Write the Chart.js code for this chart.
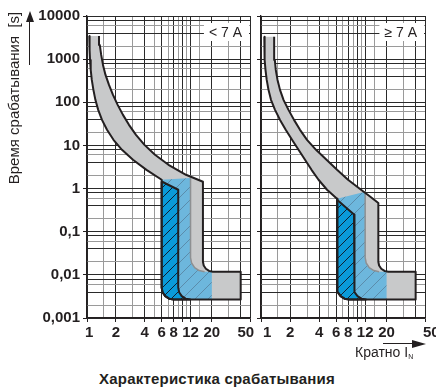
<!DOCTYPE html>
<html>
<head>
<meta charset="utf-8">
<script src="https://cdn.jsdelivr.net/npm/chart.js@4.4.0/dist/chart.umd.min.js"></script>
<style>
  html, body { margin: 0; padding: 0; background: #fff; }
  body { width: 436px; height: 387px; position: relative; overflow: hidden;
         font-family: "Liberation Sans", Arial, sans-serif; color: #231f20; }
  canvas { position: absolute; top: 0; }
  #left { left: 0; }
  #right { left: 256px; }
  .ytitle { position: absolute; width: 220px; height: 20px; line-height: 20px; left: -96px; top: 88px;
            text-align: center; font-size: 15px; white-space: pre; transform: rotate(-90deg); }
  .yline { position: absolute; left: 29px; top: 21px; width: 1.4px; height: 44px; background: #231f20; }
  .yhead { position: absolute; left: 26px; top: 11px; width: 0; height: 0;
           border-left: 4px solid transparent; border-right: 4px solid transparent; border-bottom: 11px solid #231f20; }
  .xline { position: absolute; left: 383px; top: 343px; width: 30px; height: 1.4px; background: #231f20; }
  .xhead { position: absolute; left: 412px; top: 339.5px; width: 0; height: 0;
           border-top: 4.5px solid transparent; border-bottom: 4.5px solid transparent; border-left: 14px solid #231f20; }
  .xtitle { position: absolute; left: 355px; top: 344px; font-size: 14px; line-height: 16px; white-space: nowrap; }
  .xtitle sub { font-size: 7px; vertical-align: -2px; }
  .caption { position: absolute; left: 0; width: 434px; top: 371px; text-align: center;
             font-size: 15px; letter-spacing: 0.2px; line-height: 16px; font-weight: bold; }
</style>
</head>
<body>
<canvas id="left" width="256" height="362"></canvas>
<canvas id="right" width="180" height="362"></canvas>
<div class="ytitle">Время срабатывания  [s]</div>
<div class="yline"></div><div class="yhead"></div>
<div class="xline"></div><div class="xhead"></div>
<div class="xtitle">Кратно I<sub>N</sub></div>
<div class="caption">Характеристика срабатывания</div>
<script>
// axes
const xTicks = [1, 2, 4, 6, 8, 12, 20, 50];
const xTickLabels = ['1', '2', '4', '6', '8', '12', '20', '50'];
const xGrid = [1, 1.5, 2, 3, 4, 5, 6, 7, 8, 9, 10, 11, 12, 15, 20, 30, 40, 50];
const xGridDark = [1, 2, 4, 6, 8, 10, 12, 20, 40, 50];
const yTicks = [0.001, 0.01, 0.1, 1, 10, 100, 1000, 10000];
const yTickLabels = ['0,001', '0,01', '0,1', '1', '10', '100', '1000', '10000'];
const yGrid = [0.001, 0.002, 0.004, 0.006, 0.008, 0.01, 0.02, 0.04, 0.06, 0.08,
  0.1, 0.2, 0.4, 0.6, 0.8, 1, 2, 4, 6, 8, 10, 20, 40, 60, 80,
  100, 200, 400, 600, 800, 1000, 2000, 4000, 6000, 8000, 10000];

// < 7 A : [multiple of In, seconds]
const leftMin = [[1.057, 3444], [1.064, 1633], [1.075, 958], [1.093, 562], [1.122, 330], [1.166, 194],
  [1.223, 114], [1.308, 66.7], [1.433, 39.1], [1.616, 23.0], [1.888, 13.5], [2.315, 7.91],
  [3.014, 4.64], [4.167, 2.72], [6, 1.6]];
const leftMagnetic = [[6, 0.00505], [6.13, 0.00396], [6.53, 0.00321], [7.17, 0.0028], [8.0, 0.00267],
  [40, 0.00267], [40, 0.01186], [20.5, 0.01186], [18.73, 0.01235], [17.34, 0.01387], [16.46, 0.01648],
  [16.16, 0.0202]];
const leftMax = [[16.16, 1.44], [10.75, 2.09], [7.063, 3.56], [5.109, 6.06], [3.972, 10.3], [3.239, 17.6],
  [2.738, 30.0], [2.371, 51.1], [2.088, 87.1], [1.866, 148], [1.695, 253], [1.559, 431],
  [1.468, 734], [1.406, 1251], [1.359, 2132], [1.334, 3444]];
const leftLight = [[6, 1.6], [12, 1.75], [12, 0.025], [12.31, 0.01879], [13.24, 0.01476], [14.76, 0.01256],
  [16.79, 0.01186], [20, 0.01186], [20, 0.00267], [8.0, 0.00267], [7.17, 0.0028], [6.53, 0.00321],
  [6.13, 0.00396], [6, 0.00505], [6, 1.6]];
const leftLightEdge = [[12, 1.75], [12, 0.025], [12.31, 0.01879], [13.24, 0.01476], [14.76, 0.01256],
  [16.79, 0.01186]];
const leftDark = [[6, 1.46], [8.93, 0.94], [8.93, 0.00505], [9.13, 0.00396], [9.72, 0.00321],
  [10.67, 0.0028], [11.9, 0.00267], [8.0, 0.00267], [7.17, 0.0028], [6.53, 0.00321], [6.13, 0.00396],
  [6, 0.00505], [6, 1.46]];

// >= 7 A
const rightMin = [[1.082, 3317], [1.085, 1633], [1.095, 958], [1.113, 562], [1.146, 330], [1.196, 194],
  [1.269, 114], [1.397, 66.7], [1.574, 39.1], [1.803, 23.0], [2.096, 13.5], [2.447, 7.91],
  [2.858, 4.64], [3.337, 2.72], [3.944, 1.60], [4.83, 0.938], [6.13, 0.581]];
const rightMagnetic = [[6.13, 0.00505], [6.27, 0.00396], [6.67, 0.00321], [7.32, 0.0028], [8.17, 0.00267],
  [40, 0.00267], [40, 0.01186], [20.86, 0.01186], [19.03, 0.01235], [17.62, 0.01387], [16.73, 0.01648],
  [16.43, 0.0202]];
const rightMax = [[16.43, 0.462], [13.16, 0.681], [10.87, 0.938], [7.97, 1.60], [6.132, 2.72],
  [4.773, 4.64], [3.715, 7.91], [2.997, 13.5], [2.536, 23.0], [2.198, 39.1], [1.928, 66.7],
  [1.711, 114], [1.574, 194], [1.483, 330], [1.423, 562], [1.39, 958], [1.374, 1633], [1.364, 3317]];
const rightLight = [[6.13, 0.581], [12, 0.84], [12, 0.025], [12.3, 0.01879], [13.22, 0.01476], [14.74, 0.01256],
  [16.74, 0.01186], [20, 0.01186], [20, 0.00267], [8.17, 0.00267], [7.32, 0.0028], [6.67, 0.00321],
  [6.27, 0.00396], [6.13, 0.00505], [6.13, 0.581]];
const rightLightEdge = [[12, 0.84], [12, 0.025], [12.3, 0.01879], [13.22, 0.01476], [14.74, 0.01256],
  [16.74, 0.01186]];
const rightDark = [[6.13, 0.55], [9.2, 0.25], [9.2, 0.00505], [9.4, 0.00396], [10.0, 0.00321],
  [10.97, 0.0028], [12.25, 0.00267], [8.17, 0.00267], [7.32, 0.0028], [6.67, 0.00321], [6.27, 0.00396],
  [6.13, 0.00505], [6.13, 0.55]];

const FONT = '"Liberation Sans", Arial, sans-serif';
const INK = '#231f20';

function hatch(bg, stroke, size, width) {
  const c = document.createElement('canvas');
  c.width = c.height = size;
  const g = c.getContext('2d');
  g.fillStyle = bg;
  g.fillRect(0, 0, size, size);
  g.strokeStyle = stroke;
  g.lineWidth = width;
  g.beginPath();
  for (const o of [-size, 0, size]) {
    g.moveTo(o - 1, size + 1);
    g.lineTo(o + size + 1, -1);
  }
  g.stroke();
  return g.createPattern(c, 'repeat');
}
const darkFill = hatch('#0a9ad9', '#102030', 10, 1);
const lightFill = hatch('#6db7dd', '#5b8cab', 13, 1);

const near = (a, b) => Math.abs(a - b) < b * 1e-6;
const has = (list, v) => list.some(t => near(v, t));
const mantissa = v => Math.round(v / Math.pow(10, Math.floor(Math.log10(v) + 1e-9)));
const pts = arr => arr.map(p => ({x: p[0], y: p[1]}));

function bands(o) {
  const outline = [...o.min, ...o.magnetic, ...o.max];
  const line = {type: 'scatter', showLine: true, pointRadius: 0, borderJoinStyle: 'round'};
  return [
    {...line, data: pts(outline), fill: 'shape', backgroundColor: '#c8c9ca', borderColor: 'rgba(0,0,0,0)', borderWidth: 0, order: 5},
    {...line, data: pts(o.light), fill: 'shape', backgroundColor: lightFill, borderColor: 'rgba(0,0,0,0)', borderWidth: 0, order: 4},
    {...line, data: pts(o.lightEdge), fill: false, borderColor: '#8e9092', borderWidth: 1.5, order: 3},
    {...line, data: pts(o.dark), fill: 'shape', backgroundColor: darkFill, borderColor: INK, borderWidth: 2, order: 2},
    {...line, data: pts(outline), fill: false, borderColor: INK, borderWidth: 2, order: 1}
  ];
}

const panelLabel = {
  id: 'panelLabel',
  afterDraw(chart, args, opts) {
    const {ctx, chartArea: a} = chart;
    ctx.save();
    ctx.font = '14px ' + FONT;
    const w = ctx.measureText(opts.text).width + 12;
    ctx.fillStyle = '#fff';
    ctx.fillRect(a.right - w - 1, a.top + 7, w, 18);
    ctx.fillStyle = INK;
    ctx.textAlign = 'right';
    ctx.textBaseline = 'middle';
    ctx.fillText(opts.text, a.right - 8, a.top + 17);
    ctx.restore();
  }
};

function makeChart(id, o) {
  return new Chart(document.getElementById(id), {
    type: 'scatter',
    data: {datasets: bands(o)},
    plugins: [panelLabel],
    options: {
      responsive: false,
      animation: false,
      events: [],
      layout: {padding: {left: 0, top: 16, right: o.padRight, bottom: 0}},
      plugins: {legend: {display: false}, tooltip: {enabled: false}, panelLabel: {text: o.label}},
      scales: {
        x: {
          type: 'logarithmic', min: 1, max: 50,
          afterBuildTicks: s => { s.ticks = xGrid.map(v => ({value: v})); },
          afterFit: s => { s.height = 44; s.paddingLeft = 0; s.paddingRight = 0; },
          border: {display: true, color: INK, width: 1.3},
          grid: {
            color: c => has(xGridDark, c.tick.value) ? '#2a2a2a' : '#9a9a9a',
            lineWidth: 1,
            tickLength: 4,
            tickColor: c => (has(xTicks, c.tick.value) || near(c.tick.value, 10)) ? INK : 'rgba(0,0,0,0)'
          },
          ticks: {
            autoSkip: false, maxRotation: 0, minRotation: 0, padding: 2, color: INK,
            font: {family: FONT, size: 15, weight: 'bold'},
            callback: v => {
              const i = xTicks.findIndex(t => near(v, t));
              if (i < 0) return '';
              return (o.pre[i] || '') + xTickLabels[i] + (o.post[i] || '');
            }
          }
        },
        y: {
          type: 'logarithmic', min: 0.001, max: 10000,
          afterBuildTicks: s => { s.ticks = yGrid.map(v => ({value: v})); },
          afterFit: s => { s.width = o.yWidth; s.paddingTop = 0; s.paddingBottom = 0; },
          border: {display: true, color: INK, width: 1.3},
          grid: {
            color: c => { const m = mantissa(c.tick.value); return (m === 2 || m === 6) ? '#9a9a9a' : '#2a2a2a'; },
            lineWidth: 1,
            tickLength: 4,
            tickColor: c => has(yTicks, c.tick.value) ? INK : 'rgba(0,0,0,0)'
          },
          ticks: {
            display: o.yLabels, autoSkip: false, padding: 3, color: INK,
            font: {family: FONT, size: 15, weight: 'bold'},
            callback: v => {
              const i = yTicks.findIndex(t => near(v, t));
              return i < 0 ? '' : yTickLabels[i];
            }
          }
        }
      }
    }
  });
}

makeChart('left', {
  min: leftMin, magnetic: leftMagnetic, max: leftMax,
  light: leftLight, lightEdge: leftLightEdge, dark: leftDark,
  label: '< 7 A', padRight: 6, yWidth: 87, yLabels: true,
  pre: {0: ' '}, post: {7: '  '}
});
makeChart('right', {
  min: rightMin, magnetic: rightMagnetic, max: rightMax,
  light: rightLight, lightEdge: rightLightEdge, dark: rightDark,
  label: '\u2265 7 A', padRight: 11, yWidth: 5, yLabels: false,
  pre: {0: '   ', 7: '   '}, post: {}
});
</script>
</body>
</html>
